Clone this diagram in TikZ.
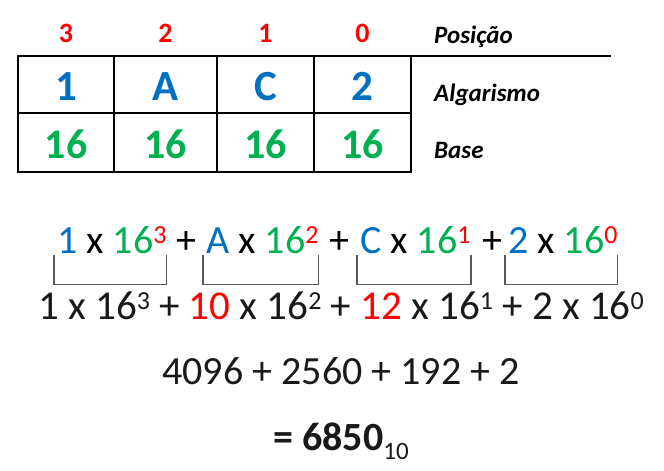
\documentclass[tikz,border=0pt]{standalone}
\usepackage{fontspec}
\setmainfont{Carlito}
\usetikzlibrary{positioning,calc}
\definecolor{hexblue}{HTML}{0070C0}
\definecolor{hexgreen}{HTML}{00B050}
\definecolor{hexred}{HTML}{FF0000}
\definecolor{brkgray}{HTML}{595959}
\newcommand{\hexfs}[1]{\fontsize{#1}{#1}\selectfont}
\newcommand{\hexpow}[1]{\raisebox{10pt}{\hexfs{26}#1}}

\begin{document}
\begin{tikzpicture}[x=1pt,y=-1pt,
    every node/.style={inner sep=0pt},
    cell/.style={draw,line width=2pt},
    posnum/.style={font=\hexfs{28}\bfseries,text=hexred,anchor=base},
    digit/.style={font=\hexfs{43}\bfseries,text=hexblue,anchor=base},
    basenum/.style={font=\hexfs{42}\bfseries,text=hexgreen,anchor=base},
    lbl/.style={font=\hexfs{25}\bfseries\itshape,anchor=base west},
    term/.style={font=\hexfs{40},anchor=base west},
    sumline/.style={font=\hexfs{41},text=black!90,anchor=base},
    brk/.style={draw=brkgray,line width=1.3pt}]
    \useasboundingbox (0,0) rectangle (664,471);

    % table
    \foreach \l/\r/\d/\p [count=\i] in {18/114/1/3,114/217/A/2,217/314/C/1,314/411/2/0}
    {%
    \draw[cell] (\l,56) rectangle (\r,113);
    \draw[cell] (\l,113) rectangle (\r,172);
    \node[posnum] (p\i) at ({(\l+\r)/2},42) {\p};
    \node[digit] (d\i) at ({(\l+\r)/2},100) {\d};
    \node[basenum] (b\i) at ({(\l+\r)/2},158) {16};
    }%
    \draw[cell] (411,56) -- (611,56);

    % labels
    \node[lbl] (lpos) at (434,43) {Posição};
    \node[lbl] (lalg) at (434,101) {Algarismo};
    \node[lbl] (lbase) at (434,158) {Base};

    % first line with brackets
    \foreach \d/\e/\xl [count=\i] in {1/3/57,A/2/206,C/1/360,2/0/508}
    {%
    \node[term] (t\i) at (\xl,253)
        {\textcolor{hexblue}{\d} x \textcolor{hexgreen}{16}\textcolor{hexred}{\hexpow{\e}}};
    \draw[brk] ([shift={(-3,2)}]t\i.south west) |- ([shift={(0,31)}]t\i.south east)
        -- ([shift={(0,2)}]t\i.south east);
    }%
    \foreach \xp [count=\i] in {186,339,492}
        \node[term,anchor=base] (plus\i) at (\xp,253) {+};

    % sums
    \node[sumline] (sum1) at (341,319) {1 x 16\hexpow{3} + \textcolor{hexred}{10} x 16\hexpow{2}
        + \textcolor{hexred}{12} x 16\hexpow{1} + 2 x 16\hexpow{0}};
    \node[sumline,font=\hexfs{40}] (sum2) at (341,384) {4096 + 2560 + 192 + 2};
    \node[sumline,font=\hexfs{40}\bfseries] (total) at (341,450)
        {= 6850\raisebox{-9pt}{\hexfs{25}\mdseries 10}};
\end{tikzpicture}
\end{document}
